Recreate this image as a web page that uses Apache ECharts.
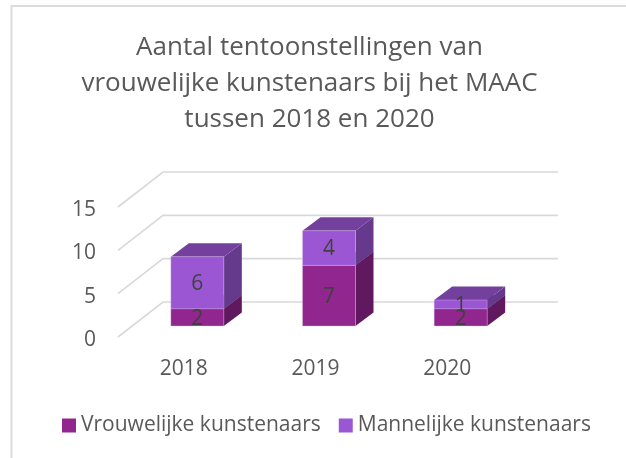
<!DOCTYPE html>
<html>
<head>
<meta charset="utf-8">
<style>html,body{margin:0;padding:0;background:#fff}#c{width:626px;height:458px}</style>
<script src="https://cdn.jsdelivr.net/npm/echarts@6/dist/echarts.min.js"></script>
</head>
<body>
<div id="c"></div>
<script>
var categories = ['2018', '2019', '2020'];
var vrouwelijk = [2, 7, 2];
var mannelijk = [6, 4, 1];
var valueTicks = [0, 5, 10, 15];
var titleText = 'Aantal tentoonstellingen van\nvrouwelijke kunstenaars bij het MAAC\ntussen 2018 en 2020';
var seriesNames = ['Vrouwelijke kunstenaars', 'Mannelijke kunstenaars'];

var FONT = '"Open Sans", sans-serif';
var floorDX = 45, floorDY = -35;
var barOffX = 13.5, barOffY = -11, barDX = 18, barDY = -13.5, barW = 53;

function gridItem(params, api) {
  var cs = params.coordSys;
  var y = api.coord([0, api.value(0)])[1];
  return {
    type: 'polyline', silent: true,
    shape: { points: [[cs.x, y], [cs.x + floorDX, y + floorDY], [cs.x + cs.width + floorDX, y + floorDY]] },
    style: { stroke: '#d9d9d9', lineWidth: 1.6, fill: null }
  };
}

function boxItem(colors) {
  return function (params, api) {
    var c = api.value(0), lo = api.value(1), hi = api.value(2);
    var base = api.coord([c, lo]), top = api.coord([c, hi]);
    var x0 = base[0] + barOffX - barW / 2, x1 = x0 + barW;
    var yb = base[1] + barOffY, yt = top[1] + barOffY;
    var edge = 'rgba(225,200,240,0.45)';
    return {
      type: 'group',
      children: [
        { type: 'polygon', shape: { points: [[x1, yb], [x1 + barDX, yb + barDY], [x1 + barDX, yt + barDY], [x1, yt]] },
          style: { fill: colors.side } },
        { type: 'polygon', shape: { points: [[x0, yt], [x1, yt], [x1 + barDX, yt + barDY], [x0 + barDX, yt + barDY]] },
          style: { fill: colors.top } },
        { type: 'rect', shape: { x: x0, y: yt, width: barW, height: yb - yt },
          style: { fill: colors.front, stroke: edge, lineWidth: 0.8 } }
      ]
    };
  };
}

function labelItem(params, api) {
  var c = api.value(0), lo = api.value(1), hi = api.value(2);
  var a = api.coord([c, lo]), b = api.coord([c, hi]);
  return {
    type: 'text',
    style: { x: a[0] + barOffX, y: (a[1] + b[1]) / 2 + barOffY + 1.5, text: String(hi - lo), fill: '#404040',
             font: '21px ' + FONT, align: 'center', verticalAlign: 'middle' }
  };
}

var low = vrouwelijk.map(function (v, i) { return [i, 0, v]; });
var high = mannelijk.map(function (v, i) { return [i, vrouwelijk[i], vrouwelijk[i] + v]; });

var chart = echarts.init(document.getElementById('c'), null, { renderer: 'canvas' });
chart.setOption({
  animation: false,
  backgroundColor: '#fff',
  title: {
    text: titleText, left: 304.5, top: 25, textAlign: 'center',
    textStyle: { fontFamily: FONT, fontWeight: 'normal', fontSize: 26, lineHeight: 36, color: '#595959' }
  },
  legend: {
    left: 57, top: 410, itemWidth: 14, itemHeight: 14, itemGap: 18,
    textStyle: { fontFamily: FONT, fontSize: 21, color: '#595959' },
    data: [
      { name: seriesNames[0], icon: 'rect', itemStyle: { color: '#92268F' } },
      { name: seriesNames[1], icon: 'rect', itemStyle: { color: '#9B57D3' } }
    ]
  },
  grid: { left: 118, top: 207, width: 395, height: 130 },
  xAxis: {
    type: 'category', data: categories,
    axisLine: { show: false }, axisTick: { show: false },
    axisLabel: { fontFamily: FONT, fontSize: 21, color: '#595959', margin: 22 }
  },
  yAxis: {
    type: 'value', min: 0, max: 15, interval: 5,
    axisLine: { show: false }, axisTick: { show: false }, splitLine: { show: false },
    axisLabel: {
      margin: 22, formatter: '{a|{value}}',
      rich: { a: { fontFamily: FONT, fontSize: 21, color: '#595959', padding: [6, 0, 0, 0] } }
    }
  },
  series: [
    { type: 'custom', name: 'grid', silent: true, z: 1, encode: { y: 0 },
      renderItem: gridItem, data: valueTicks.map(function (v) { return [v]; }) },
    { type: 'custom', name: seriesNames[0], z: 3, encode: { x: 0, y: [1, 2] },
      itemStyle: { color: '#92268F' },
      renderItem: boxItem({ front: '#92268F', top: '#6D1C6B', side: '#60195E' }), data: low },
    { type: 'custom', name: seriesNames[1], z: 4, encode: { x: 0, y: [1, 2] },
      itemStyle: { color: '#9B57D3' },
      renderItem: boxItem({ front: '#9B57D3', top: '#74409E', side: '#653A8C' }), data: high },
    { type: 'custom', name: 'labels-low', silent: true, z: 5, encode: { x: 0, y: [1, 2] },
      renderItem: labelItem, data: low },
    { type: 'custom', name: 'labels-high', silent: true, z: 5, encode: { x: 0, y: [1, 2] },
      renderItem: labelItem, data: high }
  ],
  graphic: [
    { type: 'polyline', silent: true, z: -1, shape: { points: [[11.5, 458], [11.5, 6], [626, 6]] },
      style: { fill: null, stroke: '#dcdcdc', lineWidth: 2 } }
  ]
});
</script>
</body>
</html>
